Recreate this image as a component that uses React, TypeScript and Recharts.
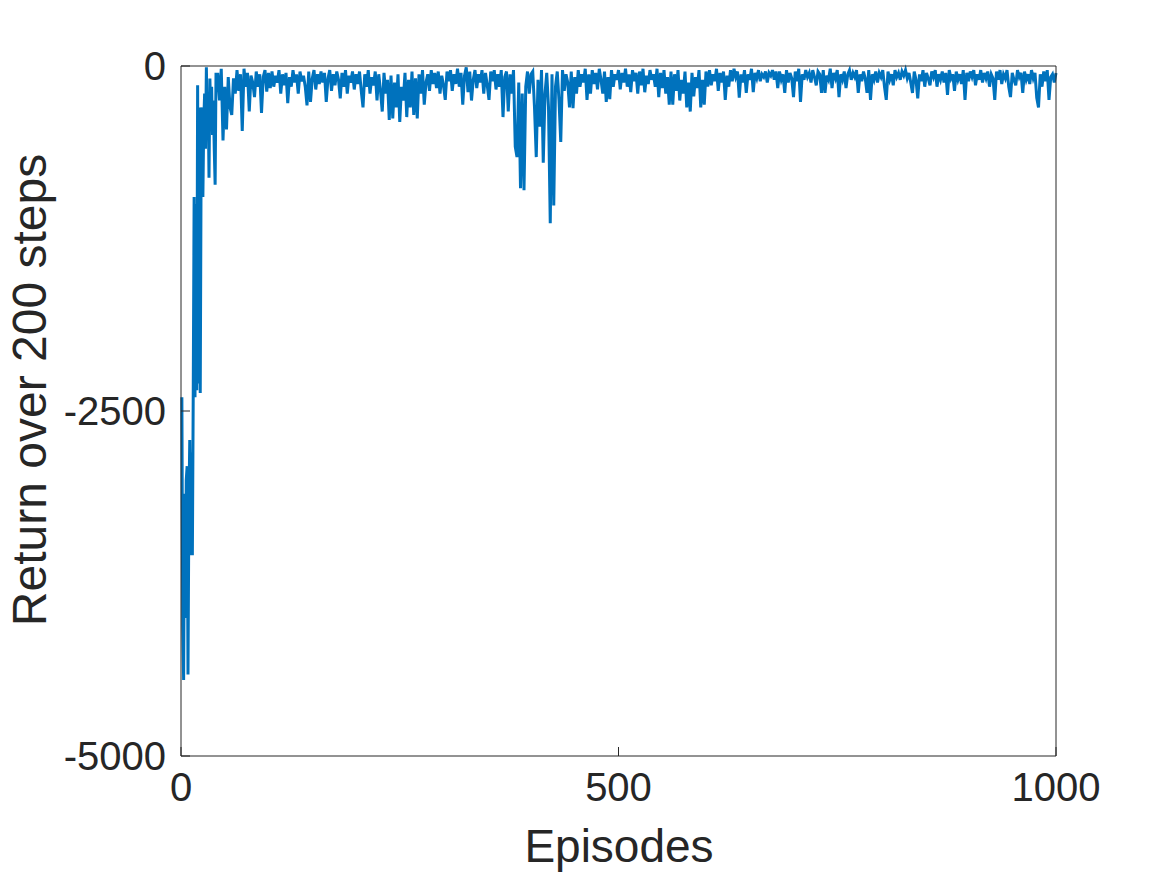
import React from "react";
import { LineChart, Line, XAxis, YAxis, Label } from "recharts";

// episodes 1..40, one value per episode
const earlyReturns = [
  -2400, -4050, -4450, -3100, -4000, -3000, -2900, -4410, -3200, -2710,
  -3545, -2800, -3545, -2350, -950, -2400, -1000, -2350, -140, -2300,
  -300, -2370, -680, -300, -950, -400, -200, -600, -10, -450,
  -200, -810, -90, -350, -150, -500, -250, -600, -860, -60,
];

// episodes 42..1000, one value every 2 episodes
const LATER_START = 42;
const LATER_STEP = 2;
const laterReturns = [
  -60, -250, -20, -540, -150, -460, -80, -300, -355, -90, -200, -30, -180, -60, -470, -20, -150, -50, -330, -70,
  -120, -225, -40, -150, -60, -340, -80, -30, -185, -50, -160, -40, -150, -70, -120, -30, -200, -60, -140, -50,
  -270, -80, -150, -30, -120, -60, -200, -40, -110, -70, -150, -285, -40, -260, -90, -30, -170, -60, -130, -40,
  -120, -50, -260, -90, -30, -180, -60, -140, -40, -100, -235, -50, -150, -30, -200, -70, -120, -40, -170, -60,
  -130, -40, -180, -300, -60, -150, -30, -200, -80, -140, -40, -250, -60, -180, -330, -50, -200, -100, -390, -70,
  -380, -120, -300, -60, -405, -150, -250, -50, -370, -100, -300, -40, -355, -90, -380, -60, -200, -30, -280, -120,
  -60, -180, -30, -130, -50, -160, -40, -200, -70, -140, -245, -40, -110, -30, -180, -60, -130, -20, -150, -50,
  -280, -70, -10, -190, -40, -250, -100, -30, -160, -60, -120, -30, -200, -50, -140, -245, -40, -110, -30, -170,
  -60, -150, -30, -370, -80, -40, -330, -60, -200, -30, -585, -660, -120, -885, -200, -900, -150, -40, -200, -60,
  -40, -300, -660, -100, -440, -30, -700, -200, -50, -300, -1140, -60, -1010, -150, -40, -250, -550, -30, -180, -60,
  -120, -300, -40, -305, -80, -200, -30, -150, -60, -120, -20, -245, -60, -200, -30, -130, -50, -170, -20, -100,
  -200, -40, -260, -80, -240, -30, -150, -60, -100, -30, -170, -50, -120, -20, -150, -60, -190, -30, -110, -50,
  -200, -40, -140, -20, -190, -70, -130, -30, -100, -60, -150, -20, -225, -50, -160, -30, -200, -80, -280, -40,
  -280, -60, -180, -30, -250, -100, -200, -40, -300, -120, -330, -50, -220, -80, -160, -30, -300, -100, -280, -40,
  -150, -30, -140, -60, -110, -20, -180, -50, -120, -40, -245, -70, -150, -30, -110, -20, -80, -40, -230, -60,
  -120, -30, -195, -60, -100, -20, -190, -50, -90, -30, -110, -60, -80, -40, -120, -50, -70, -30, -100, -40,
  -160, -40, -100, -60, -195, -30, -120, -50, -90, -225, -40, -110, -20, -260, -60, -100, -30, -80, -50, -120,
  -30, -80, -140, -40, -60, -195, -30, -195, -70, -100, -20, -160, -50, -90, -30, -225, -60, -100, -40, -160,
  -60, -30, -100, -50, -80, -30, -195, -60, -110, -40, -90, -195, -30, -245, -60, -100, -40, -120, -50, -80,
  -30, -150, -245, -40, -100, -60, -140, -30, -80, -50, -100, -40, -70, -30, -90, -50, -120, -195, -40, -100,
  -235, -60, -110, -30, -150, -50, -90, -140, -40, -80, -30, -150, -60, -100, -40, -120, -50, -210, -30, -90,
  -60, -180, -40, -100, -60, -130, -30, -245, -50, -110, -40, -80, -30, -140, -60, -100, -30, -120, -50, -90,
  -40, -150, -60, -90, -245, -40, -100, -30, -130, -60, -90, -30, -150, -225, -50, -100, -140, -30, -80, -50,
  -195, -40, -100, -60, -130, -30, -90, -50, -230, -300, -60, -150, -40, -110, -30, -245, -80, -60, -120, -50,
];

const xTicks = [0, 500, 1000];
const yTicks = [-5000, -2500, 0];

const data = [
  ...earlyReturns.map((r, i) => ({ episode: i + 1, ret: r })),
  ...laterReturns.map((r, i) => ({ episode: LATER_START + LATER_STEP * i, ret: r })),
];

const ink = "#262626";
const font = "'Liberation Sans', Arial, Helvetica, sans-serif";

export default function App() {
  return (
    <div style={{ position: "absolute", left: 0, top: 0, background: "#fff" }}>
      <LineChart
        width={1167}
        height={875}
        data={data}
        margin={{ top: 56, right: 101, left: 121, bottom: 79 }}
        style={{ fontFamily: font }}
      >
        <XAxis
          xAxisId="b"
          dataKey="episode"
          type="number"
          domain={[0, 1000]}
          ticks={xTicks}
          height={40}
          tickSize={-9}
          tickMargin={26}
          stroke={ink}
          tick={{ fill: ink, fontSize: 40 }}
        >
          <Label
            content={() => (
              <text x={619} y={862} textAnchor="middle" fill={ink} fontSize={46} fontFamily={font}>
                Episodes
              </text>
            )}
          />
        </XAxis>
        <XAxis
          xAxisId="t"
          orientation="top"
          dataKey="episode"
          type="number"
          domain={[0, 1000]}
          ticks={xTicks}
          height={10}
          tickSize={-9}
          tick={false}
          stroke={ink}
        />
        <YAxis
          yAxisId="l"
          type="number"
          domain={[-5000, 0]}
          ticks={yTicks}
          width={60}
          tickSize={-9}
          tickMargin={24}
          stroke={ink}
          tick={{ fill: ink, fontSize: 40 }}
        >
          <Label
            content={() => (
              <text
                x={46}
                y={390}
                transform="rotate(-90 46 390)"
                textAnchor="middle"
                fill={ink}
                fontSize={48}
                fontFamily={font}
              >
                Return over 200 steps
              </text>
            )}
          />
        </YAxis>
        <YAxis
          yAxisId="r"
          orientation="right"
          type="number"
          domain={[-5000, 0]}
          ticks={yTicks}
          width={10}
          tickSize={-9}
          tick={false}
          stroke={ink}
        />
        <Line
          xAxisId="b"
          yAxisId="l"
          dataKey="ret"
          type="linear"
          stroke="#0072BD"
          strokeWidth={3}
          dot={false}
          isAnimationActive={false}
        />
      </LineChart>
    </div>
  );
}
